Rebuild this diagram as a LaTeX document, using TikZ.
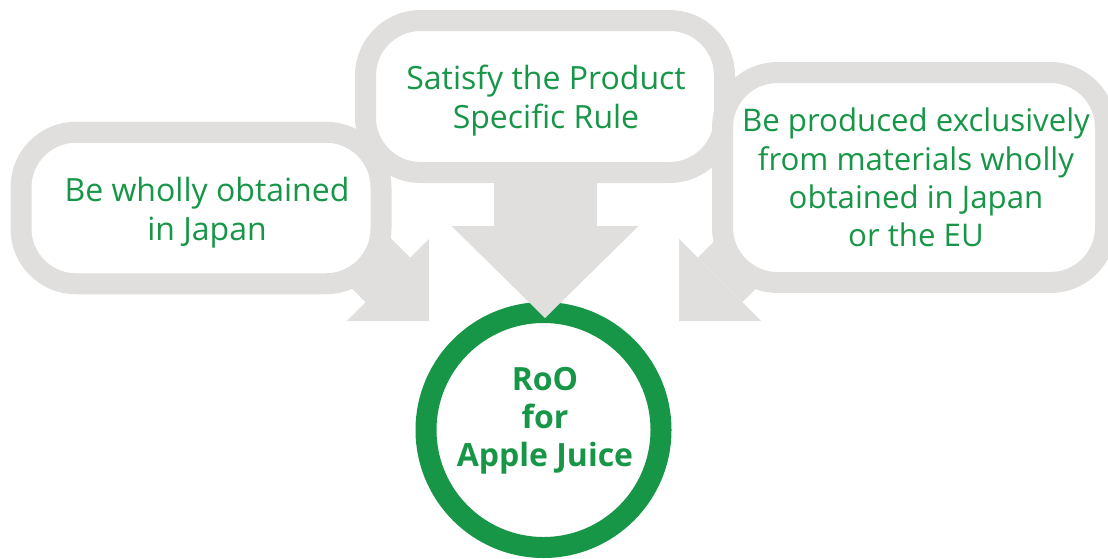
\documentclass[tikz,border=0pt]{standalone}
\usepackage{fontspec}
\setmainfont{Open Sans}
\usepackage{tikz}
\usetikzlibrary{arrows.meta}
\usetikzlibrary{shapes}

\definecolor{roogreen}{RGB}{23,150,72}
\definecolor{bandgray}{RGB}{224,223,221}

\pgfdeclarelayer{bottom}
\pgfdeclarelayer{arrowlayer}
\pgfsetlayers{bottom,arrowlayer,main}

\begin{document}
\begin{tikzpicture}[x = 0.5pt, y = -0.5pt,
  rulebox/.style = {draw = bandgray, line width = 10.5pt, fill = white, rounded corners = 27.5pt, inner sep = 0pt},
  ruletext/.style = {text = roogreen, align = center, inner sep = 0pt, font = \fontsize{16}{19.2}\selectfont},
  sidearrow/.style = {draw = bandgray, line width = 31.5pt, arrows = {Triangle[length = 29pt, width = 58pt, line width = 0pt]-}},
  midarrow/.style = {draw = bandgray, line width = 51.5pt, arrows = {-Triangle[length = 46pt, width = 93.5pt, line width = 0pt]}}]

\useasboundingbox (0,0) rectangle (1108,558);

% result
\begin{pgfonlayer}{bottom}
\node[circle, draw = roogreen, line width = 10.5pt, fill = white, minimum size = 117.5pt, inner sep = 0pt] at (543.5,430) (roo) {};
\end{pgfonlayer}
\node[text = roogreen, align = center, inner sep = 0pt, font = \fontsize{16}{19}\selectfont\bfseries] at (545,421) (rootxt) {RoO\\for\\Apple Juice};

% the three rules
\node[rulebox, minimum width = 180pt, minimum height = 75.75pt] at (201,208) (wholly) {};
\node[rulebox, minimum width = 179.5pt, minimum height = 76pt] at (545,96.5) (psr) {};
\node[rulebox, minimum width = 191.5pt, minimum height = 105pt] at (914,177.5) (materials) {};

\node[ruletext] at (207,212.7) (whollytxt) {Be wholly obtained\\in Japan};
\node[ruletext] at (546,100.7) (psrtxt) {Satisfy the Product\\Specific Rule};
\node[ruletext, font = \fontsize{15.6}{19.15}\selectfont] at (916,177.7) (materialstxt) {Be produced exclusively\\from materials wholly\\obtained in Japan\\or the EU};

% arrows
\coordinate (ltip) at (429,321);
\coordinate (ltail) at (329,221);
\coordinate (rtip) at (679,321);
\coordinate (rtail) at (779,221);
\coordinate (mtip) at (545,318);
\begin{pgfonlayer}{arrowlayer}
\draw[sidearrow] (ltip) -- (ltail);
\draw[sidearrow] (rtip) -- (rtail);
\draw[midarrow] (psr.center) -- (mtip);
\end{pgfonlayer}

\end{tikzpicture}
\end{document}
